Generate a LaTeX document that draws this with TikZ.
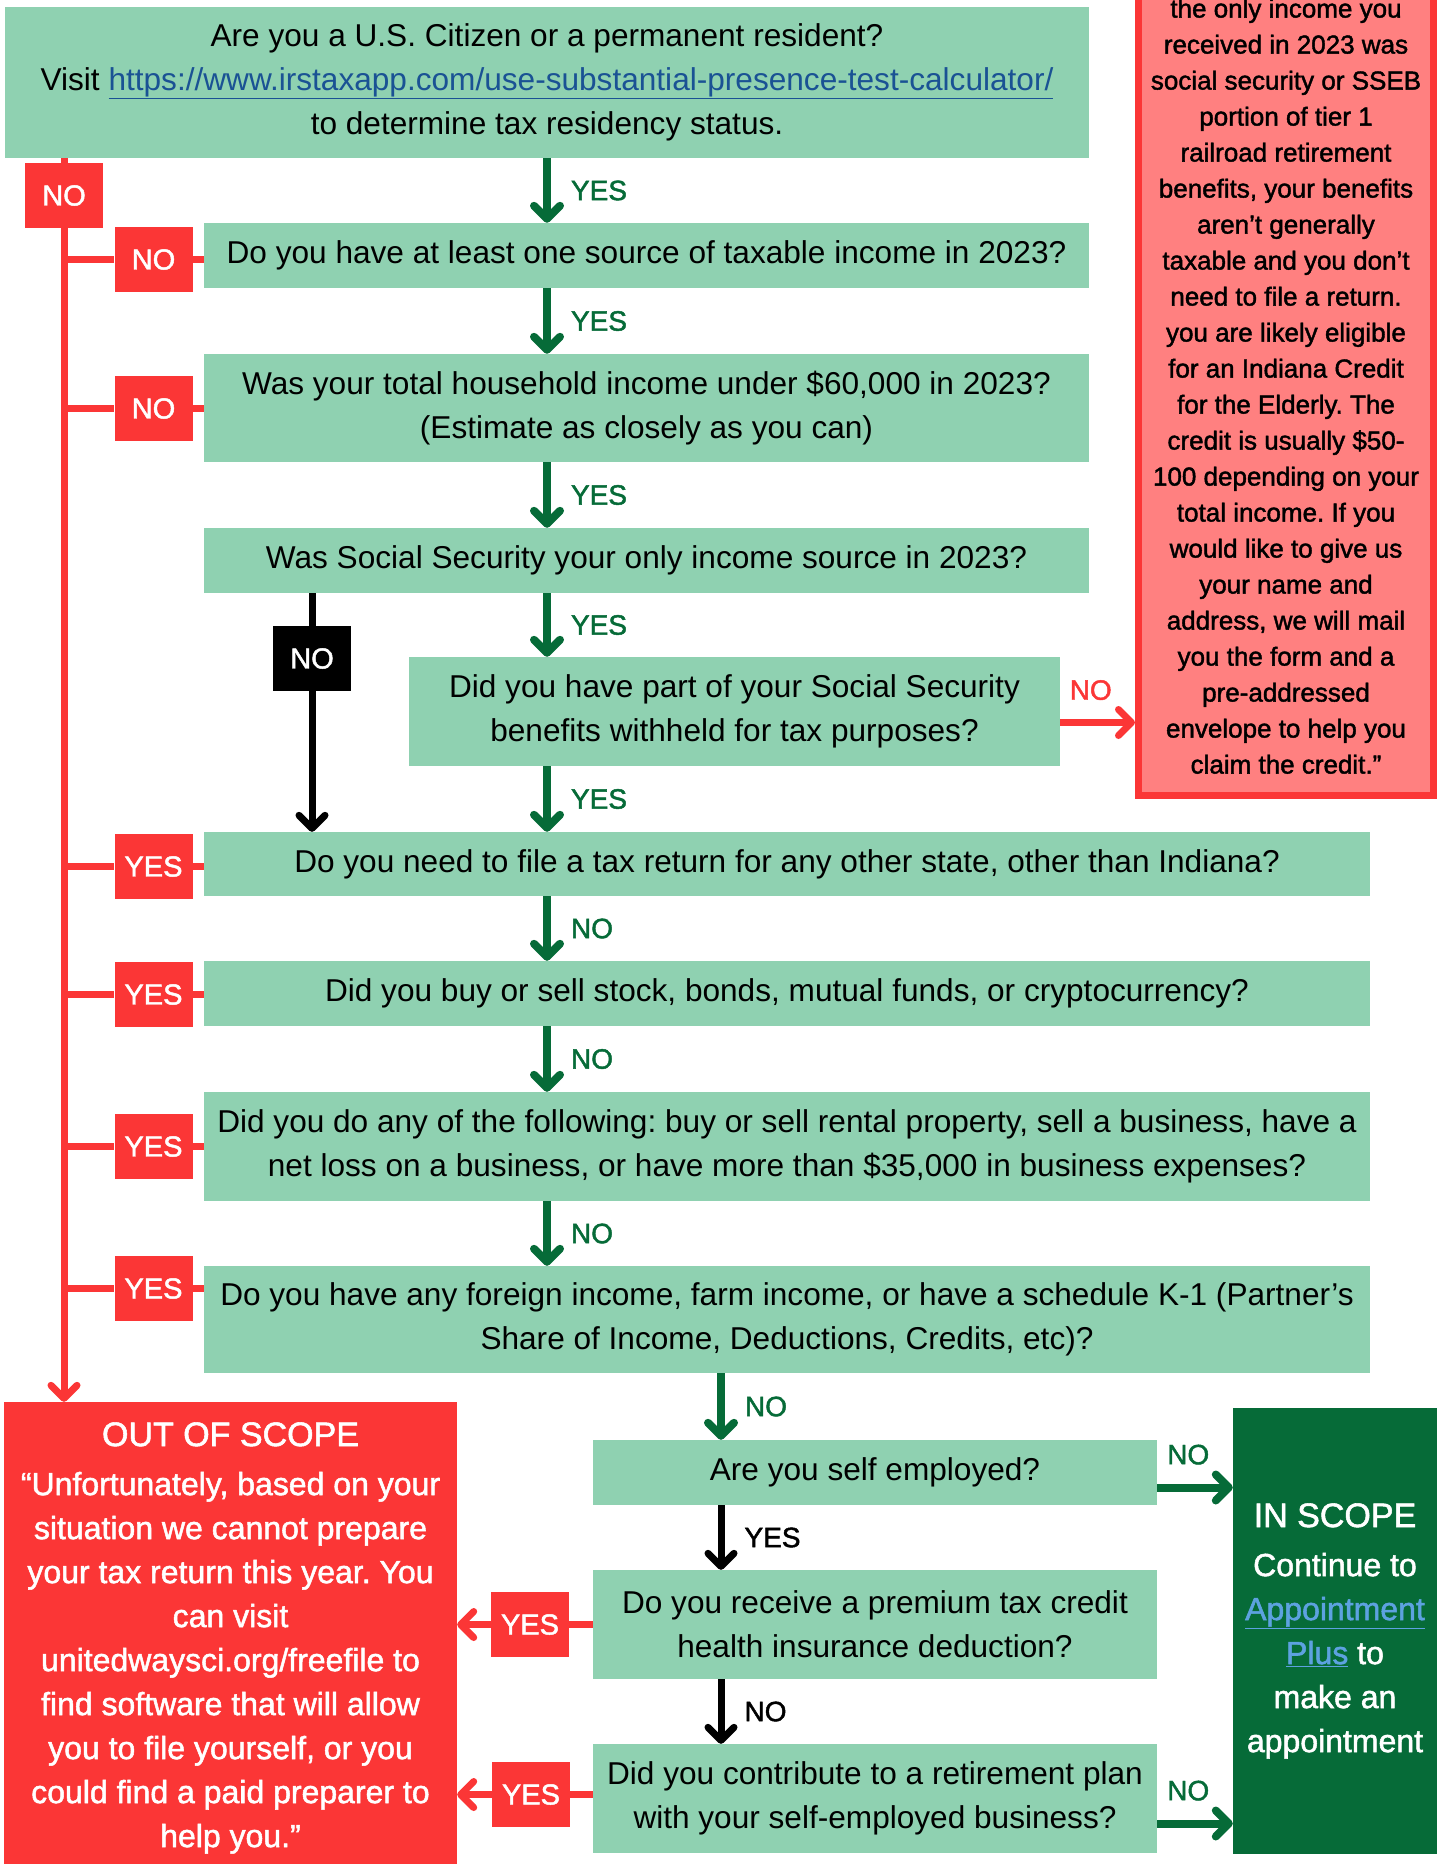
\documentclass[tikz,border=0pt]{standalone}
\usepackage{fontspec}
\setmainfont{Liberation Sans}
\newfontfamily\medfont[FakeBold=1.6]{Liberation Sans}
\usepackage{xcolor}
\usetikzlibrary{arrows.meta, positioning}

\definecolor{boxgreen}{HTML}{8FD1B1}
\definecolor{tagred}{HTML}{FB3636}
\definecolor{darkgreen}{HTML}{066B38}
\definecolor{notepink}{HTML}{FF8080}
\definecolor{linkblue}{HTML}{1A5294}
\definecolor{lightlink}{HTML}{5DA2E0}
\frenchspacing

\begin{document}
\begin{tikzpicture}[x=1pt, y=-1pt,
    qbox/.style={fill=boxgreen, inner sep=0pt, align=center, font=\fontsize{31.6}{44}\selectfont},
    tag/.style={fill=tagred, text=white, inner sep=0pt, minimum width=78pt, minimum height=65pt, font=\fontsize{29}{34}\medfont},
    blacktag/.style={tag, fill=black},
    flowtip/.tip={Straight Barb[length=13pt, width=26pt, round]},
    gline/.style={line width=8pt, darkgreen},
    rline/.style={line width=7pt, tagred},
    kline/.style={line width=7pt, black},
    glabel/.style={right=20pt, inner sep=0pt, text=darkgreen, font=\fontsize{28}{34}\medfont},
    klabel/.style={glabel, text=black},
    sidelabel/.style={pos=0, anchor=south west, inner sep=0pt, xshift=6pt, yshift=19pt, font=\fontsize{28}{34}\medfont},
]
    \useasboundingbox (0,0) rectangle (1442,1864);

    % questions
    \node[qbox, minimum width=1084pt, minimum height=151pt] (q1) at (547,82.5) {Are you a U.S. Citizen or a permanent resident?\\Visit \textcolor{linkblue}{\underline{https://www.irstaxapp.com/use-substantial-presence-test-calculator/}}\\to determine tax residency status.};
    \node[qbox, minimum width=885pt, minimum height=65pt] (q2) at (646.5,255.5) {Do you have at least one source of taxable income in 2023?};
    \node[qbox, minimum width=885pt, minimum height=108pt] (q3) at (646.5,408) {Was your total household income under \$60,000 in 2023?\\(Estimate as closely as you can)};
    \node[qbox, minimum width=885pt, minimum height=65pt] (q4) at (646.5,560.5) {Was Social Security your only income source in 2023?};
    \node[qbox, minimum width=651pt, minimum height=109pt] (q5) at (734.5,711.5) {Did you have part of your Social Security\\benefits withheld for tax purposes?};
    \node[qbox, minimum width=1166pt, minimum height=64pt] (q6) at (787,864) {Do you need to file a tax return for any other state, other than Indiana?};
    \node[qbox, minimum width=1166pt, minimum height=65pt] (q7) at (787,993.5) {Did you buy or sell stock, bonds, mutual funds, or cryptocurrency?};
    \node[qbox, minimum width=1166pt, minimum height=109pt] (q8) at (787,1146.5) {Did you do any of the following: buy or sell rental property, sell a business, have a\\net loss on a business, or have more than \$35,000 in business expenses?};
    \node[qbox, minimum width=1166pt, minimum height=107pt] (q9) at (787,1319.5) {Do you have any foreign income, farm income, or have a schedule K-1 (Partner’s\\Share of Income, Deductions, Credits, etc)?};
    \node[qbox, minimum width=564pt, minimum height=65pt] (q10) at (875,1472.5) {Are you self employed?};
    \node[qbox, minimum width=564pt, minimum height=109pt] (q11) at (875,1624.5) {Do you receive a premium tax credit\\health insurance deduction?};
    \node[qbox, minimum width=564pt, minimum height=109pt] (q12) at (875,1798.5) {Did you contribute to a retirement plan\\with your self-employed business?};

    % results
    \node[fill=tagred, text=white, inner sep=0pt, minimum width=453pt, minimum height=472pt, align=center, font=\fontsize{32}{44}\medfont] (outscope) at (230.5,1638) {{\fontsize{34}{44}\selectfont OUT OF SCOPE}\\[5pt]“Unfortunately, based on your\\situation we cannot prepare\\your tax return this year. You\\can visit\\unitedwaysci.org/freefile to\\find software that will allow\\you to file yourself, or you\\could find a paid preparer to\\help you.”};
    \node[fill=darkgreen, text=white, inner sep=0pt, minimum width=204pt, minimum height=446pt, align=center, font=\fontsize{32}{44}\medfont] (inscope) at (1335,1631) {{\fontsize{34}{44}\selectfont IN SCOPE}\\[5pt]Continue to\\\textcolor{lightlink}{\underline{Appointment}}\\\textcolor{lightlink}{\underline{Plus}} to\\make an\\appointment};
    \node[draw=tagred, line width=7pt, fill=notepink, minimum width=295pt, minimum height=830pt, anchor=south] (note) at (1286,798.5) {};
    \node[anchor=south, inner sep=0pt, align=center, font=\fontsize{26}{36}\medfont] (notetext) at (1286,774) {the only income you\\received in 2023 was\\social security or SSEB\\portion of tier 1\\railroad retirement\\benefits, your benefits\\aren’t generally\\taxable and you don’t\\need to file a return.\\you are likely eligible\\for an Indiana Credit\\for the Elderly. The\\credit is usually \$50-\\100 depending on your\\total income. If you\\would like to give us\\your name and\\address, we will mail\\you the form and a\\pre-addressed\\envelope to help you\\claim the credit.”};

    % tags
    \node[tag] (no1) at (64,195.5) {NO};
    \node[tag] (no2) at (153.5,259.5) {NO};
    \node[tag] (no3) at (153.5,408.5) {NO};
    \node[blacktag] (no4) at (312,658.5) {NO};
    \node[tag] (yes6) at (153.5,866.5) {YES};
    \node[tag] (yes7) at (153.5,994.5) {YES};
    \node[tag] (yes8) at (153.5,1146.5) {YES};
    \node[tag] (yes9) at (153.5,1288.5) {YES};
    \node[tag] (yes11) at (530,1624.5) {YES};
    \node[tag] (yes12) at (531,1794.5) {YES};

    % red trunk on the left
    \draw[rline] (q1.south -| no1) -- (no1.north);
    \draw[rline, -flowtip] (no1.south) -- (outscope.north -| no1);
    \foreach \t/\q in {no2/q2, no3/q3, yes6/q6, yes7/q7, yes8/q8, yes9/q9} {
        \draw[rline] (\t.west -| no1) -- (\t.west);
        \draw[rline] (\t.east) -- (\t.east -| \q.west);
    }

    % main spine
    \foreach \a/\b/\txt in {q1/q2/YES, q2/q3/YES, q3/q4/YES, q4/q5/YES, q5/q6/YES, q6/q7/NO, q7/q8/NO, q8/q9/NO}
        \draw[gline, -flowtip] (\a.south -| q1.south) -- (\b.north -| q1.south) node[glabel, midway] (lab\a) {\txt};

    % social security only
    \draw[kline] (q4.south -| no4) -- (no4.north);
    \draw[kline, -flowtip] (no4.south) -- (q6.north -| no4);
    \coordinate (q5out) at ([yshift=-11pt]q5.east);
    \draw[rline, -flowtip] (q5out) -- (q5out -| note.west) node[sidelabel, text=tagred] (labq5) {NO};

    % self employed part
    \coordinate (spine) at ([xshift=-154pt]q10.north);
    \draw[gline, -flowtip] (spine |- q9.south) -- (q10.north -| spine) node[glabel, midway] (labq9) {NO};
    \draw[kline, -flowtip] (q10.south -| spine) -- (q11.north -| spine) node[klabel, midway] (labq10) {YES};
    \draw[kline, -flowtip] (q11.south -| spine) -- (q12.north -| spine) node[klabel, midway] (labq11) {NO};
    \coordinate (q10out) at ([yshift=-15pt]q10.east);
    \draw[gline, -flowtip] (q10out) -- (q10out -| inscope.west) node[sidelabel, text=darkgreen] (labq10r) {NO};
    \coordinate (q12out) at ([yshift=-25pt]q12.east);
    \draw[gline, -flowtip] (q12out) -- (q12out -| inscope.west) node[sidelabel, text=darkgreen] (labq12r) {NO};
    \draw[rline] (yes11.east) -- (yes11.east -| q11.west);
    \draw[rline, -flowtip] (yes11.west) -- (yes11.west -| outscope.east);
    \draw[rline] (yes12.east) -- (yes12.east -| q12.west);
    \draw[rline, -flowtip] (yes12.west) -- (yes12.west -| outscope.east);
\end{tikzpicture}
\end{document}
